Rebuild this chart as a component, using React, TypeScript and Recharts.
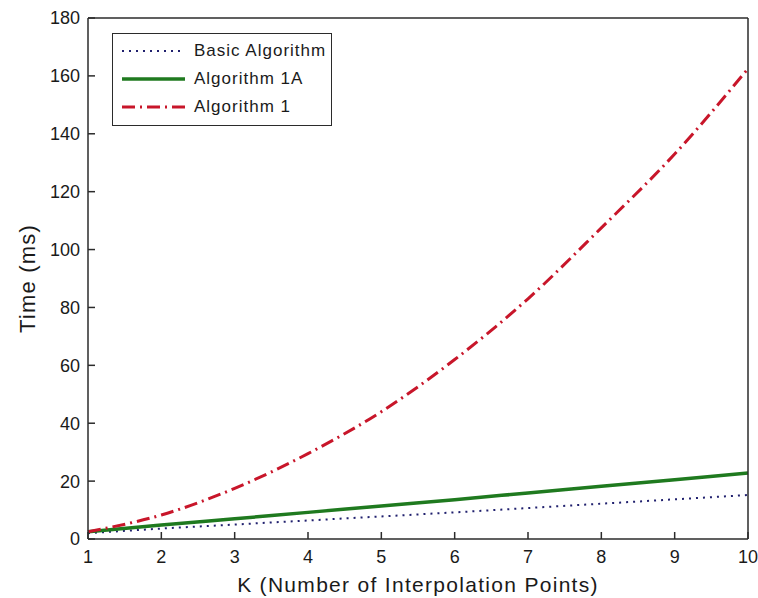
import { LineChart, Line, XAxis, YAxis, Legend, Label } from "recharts";

const K = [1, 2, 3, 4, 5, 6, 7, 8, 9, 10];
const BASIC = [2.0, 3.6, 5.0, 6.4, 7.8, 9.2, 10.7, 12.2, 13.7, 15.2];
const ALG_1A = [2.5, 4.8, 7.0, 9.2, 11.4, 13.6, 15.9, 18.2, 20.5, 22.8];
const ALG_1 = [2.5, 8.3, 17.5, 29.5, 44, 62, 83, 107.5, 133, 162.5];
const Y_TICKS = [0, 20, 40, 60, 80, 100, 120, 140, 160, 180];

const FONT = "'Liberation Sans', Arial, Helvetica, sans-serif";
const AXIS = "#2b2b2b";

const SERIES = [
  { key: "basic", name: "Basic Algorithm", color: "#20206e", width: 2, dash: "2 5" },
  { key: "alg1a", name: "Algorithm 1A", color: "#1f7a1f", width: 3.5, dash: undefined },
  { key: "alg1", name: "Algorithm 1", color: "#c8162a", width: 3, dash: "13 5 2 5" },
];

const data = K.map((k, i) => ({ k, basic: BASIC[i], alg1a: ALG_1A[i], alg1: ALG_1[i] }));

function LegendBox() {
  return (
    <div
      style={{
        border: `1.5px solid ${AXIS}`,
        background: "#fff",
        width: 218,
        padding: "3px 0 4px 0",
        fontFamily: FONT,
        fontSize: 17,
        letterSpacing: 1,
        color: "#1a1a1a",
      }}
    >
      {SERIES.map((s) => (
        <div key={s.key} style={{ display: "flex", alignItems: "center", height: 28 }}>
          <svg width={72} height={10} style={{ marginLeft: 9 }}>
            <line x1={0} y1={5} x2={63} y2={5} stroke={s.color} strokeWidth={s.width} strokeDasharray={s.dash} />
          </svg>
          <span>{s.name}</span>
        </div>
      ))}
    </div>
  );
}

function YTitle(props: any) {
  const vb = props.viewBox;
  const cx = 27;
  const cy = vb.y + vb.height / 2;
  return (
    <text
      x={cx}
      y={cy}
      transform={`rotate(-90 ${cx} ${cy})`}
      textAnchor="middle"
      dominantBaseline="central"
      fontFamily={FONT}
      fontSize={22}
      letterSpacing={1.2}
      fill="#1a1a1a"
    >
      Time (ms)
    </text>
  );
}

function XTitle(props: any) {
  const vb = props.viewBox;
  return (
    <text
      x={vb.x + vb.width / 2}
      y={592}
      textAnchor="middle"
      fontFamily={FONT}
      fontSize={21}
      letterSpacing={1.3}
      fill="#1a1a1a"
    >
      K (Number of Interpolation Points)
    </text>
  );
}

export default function App() {
  const tickStyle = { fontSize: 18, fill: "#1a1a1a", fontFamily: FONT };
  return (
    <div style={{ position: "absolute", left: 0, top: 0, width: 758, height: 598, background: "#fff" }}>
      <LineChart width={758} height={598} data={data} margin={{ top: 17, right: 9, bottom: 29, left: 28 }}>
        <XAxis
          dataKey="k"
          type="number"
          domain={[1, 10]}
          ticks={K}
          height={30}
          tickSize={-7}
          tickMargin={18}
          tick={tickStyle}
          stroke={AXIS}
          strokeWidth={1.5}
          interval={0}
        >
          <Label content={<XTitle />} />
        </XAxis>
        <XAxis
          xAxisId="top"
          orientation="top"
          dataKey="k"
          type="number"
          domain={[1, 10]}
          ticks={K}
          height={1}
          tickSize={-7}
          tick={false}
          stroke={AXIS}
          strokeWidth={1.5}
          interval={0}
        />
        <YAxis
          type="number"
          domain={[0, 180]}
          ticks={Y_TICKS}
          width={60}
          tickSize={-7}
          tickMargin={15}
          tick={tickStyle}
          stroke={AXIS}
          strokeWidth={1.5}
          interval={0}
        >
          <Label content={<YTitle />} />
        </YAxis>
        <YAxis
          yAxisId="right"
          orientation="right"
          type="number"
          domain={[0, 180]}
          ticks={Y_TICKS}
          width={1}
          tickSize={-7}
          tick={false}
          stroke={AXIS}
          strokeWidth={1.5}
          interval={0}
        />
        {SERIES.map((s) => (
          <Line
            key={s.key}
            dataKey={s.key}
            name={s.name}
            type="monotone"
            stroke={s.color}
            strokeWidth={s.width}
            strokeDasharray={s.dash}
            dot={false}
            activeDot={false}
            isAnimationActive={false}
          />
        ))}
        <Legend
          layout="vertical"
          align="center"
          verticalAlign="middle"
          content={<LegendBox />}
          wrapperStyle={{ position: "absolute", left: 112, top: 33, width: "auto" }}
        />
      </LineChart>
    </div>
  );
}
